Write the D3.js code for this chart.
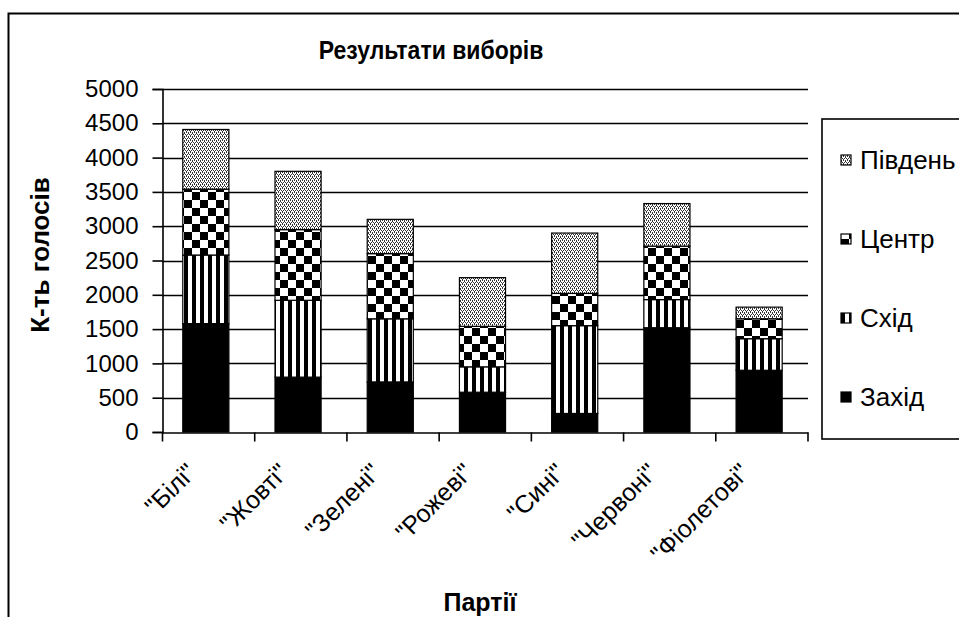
<!DOCTYPE html>
<html>
<head>
<meta charset="utf-8">
<script src="https://cdn.jsdelivr.net/npm/d3@7"></script>
<style>
  html, body { margin: 0; padding: 0; background: #fff; }
  svg { display: block; }
  text { font-family: "Liberation Sans", Arial, sans-serif; fill: #000; }
</style>
</head>
<body>
<svg id="chart" width="959" height="617"></svg>
<script>
// ---- data ----
const title = "Результати виборів";
const yTitle = "К-ть голосів";
const xTitle = "Партії";
const categories = ["\"Білі\"", "\"Жовті\"", "\"Зелені\"", "\"Рожеві\"", "\"Сині\"", "\"Червоні\"", "\"Фіолетові\""];
const seriesNames = ["Захід", "Схід", "Центр", "Південь"];
const zakhid  = [1580, 800, 730, 580, 270, 1520, 900];
const skhid   = [1000, 1120, 920, 370, 1280, 410, 460];
const tsentr  = [960, 1030, 950, 590, 470, 780, 290];
const pivden  = [870, 850, 500, 710, 880, 620, 170];
const yTicks  = [0, 500, 1000, 1500, 2000, 2500, 3000, 3500, 4000, 4500, 5000];

const seriesValues = [zakhid, skhid, tsentr, pivden];
const table = categories.map((c, i) => {
  const row = { cat: c };
  seriesNames.forEach((s, k) => row[s] = seriesValues[k][i]);
  return row;
});

const svg = d3.select("#chart");
const defs = svg.append("defs");

// patterns
const pSolid = "#000";
const pStripe = defs.append("pattern").attr("id", "pat-skhid")
  .attr("patternUnits", "userSpaceOnUse").attr("width", 8).attr("height", 8);
pStripe.append("rect").attr("width", 8).attr("height", 8).attr("fill", "#fff");
pStripe.append("rect").attr("x", 0).attr("width", 4).attr("height", 8).attr("fill", "#000");

const pCheck = defs.append("pattern").attr("id", "pat-tsentr")
  .attr("patternUnits", "userSpaceOnUse").attr("width", 16).attr("height", 16);
pCheck.append("rect").attr("width", 16).attr("height", 16).attr("fill", "#fff");
pCheck.append("rect").attr("x", 0).attr("y", 0).attr("width", 8).attr("height", 8).attr("fill", "#000");
pCheck.append("rect").attr("x", 8).attr("y", 8).attr("width", 8).attr("height", 8).attr("fill", "#000");

const pDots = defs.append("pattern").attr("id", "pat-pivden")
  .attr("patternUnits", "userSpaceOnUse").attr("width", 4).attr("height", 4);
pDots.append("rect").attr("width", 4).attr("height", 4).attr("fill", "#fff");
[[0,0],[2,0],[1,2],[3,2],[0,1],[2,3]].forEach(([x,y]) =>
  pDots.append("rect").attr("x", x).attr("y", y).attr("width", 1).attr("height", 1).attr("fill", "#333"));

const fills = { "Захід": pSolid, "Схід": "url(#pat-skhid)", "Центр": "url(#pat-tsentr)", "Південь": "url(#pat-pivden)" };

// outer chart border
svg.append("rect").attr("x", 8.5).attr("y", 13.5).attr("width", 1100).attr("height", 800)
  .attr("fill", "none").attr("stroke", "#000").attr("stroke-width", 2);

// scales
const xb = d3.scaleBand().domain(categories).range([162.5, 808]);
const barOffset = xb.bandwidth() * 0.22;
const barWidth = xb.bandwidth() * 0.5;
const y = d3.scaleLinear().domain([0, 5000]).range([432, 89]);

// gridlines
svg.append("g").selectAll("line").data(yTicks.filter(t => t > 0)).join("line")
  .attr("x1", 162.5).attr("x2", 808)
  .attr("y1", d => Math.round(y(d)) + 0.5).attr("y2", d => Math.round(y(d)) + 0.5)
  .attr("stroke", "#000").attr("stroke-width", 1.6);

// bars
const stack = d3.stack().keys(seriesNames)(table);
svg.append("g").selectAll("g").data(stack).join("g")
  .attr("fill", d => fills[d.key])
  .selectAll("rect").data(d => d).join("rect")
  .attr("x", d => xb(d.data.cat) + barOffset)
  .attr("width", barWidth)
  .attr("y", d => y(d[1]))
  .attr("height", d => y(d[0]) - y(d[1]))
  .attr("stroke", "#000").attr("stroke-width", 1.2);

// y axis
const yAxis = svg.append("g").attr("transform", "translate(162.5,0)")
  .call(d3.axisLeft(y).tickValues(yTicks).tickFormat(d => String(d)).tickSize(10).tickPadding(14));
yAxis.select(".domain").attr("stroke", "#000").attr("stroke-width", 1.6);
yAxis.selectAll(".tick line").attr("stroke", "#000").attr("stroke-width", 1.6);
yAxis.selectAll("text").attr("font-size", 24).attr("font-family", "'Liberation Sans', Arial, sans-serif").attr("fill", "#000");

// x axis
const xAxis = svg.append("g").attr("transform", "translate(0,432.5)")
  .call(d3.axisBottom(xb).tickSize(0).tickFormat(""));
xAxis.select(".domain").attr("stroke", "#000").attr("stroke-width", 1.6);
xAxis.selectAll(".tick").remove();
const bounds = categories.map(c => xb(c)).concat([xb.range()[1]]);
xAxis.selectAll("line.bt").data(bounds).join("line").attr("class", "bt")
  .attr("x1", d => d).attr("x2", d => d).attr("y1", 0).attr("y2", 9)
  .attr("stroke", "#000").attr("stroke-width", 1.6);

svg.append("g").selectAll("text").data(categories).join("text")
  .attr("transform", d => `translate(${xb(d) + xb.bandwidth() / 2 - 11},474) rotate(-45)`)
  .attr("text-anchor", "end").attr("font-size", 25)
  .text(d => d);

// titles
svg.append("text").attr("transform", "translate(431,59) scale(0.92,1)").attr("text-anchor", "middle")
  .attr("font-size", 25).attr("font-weight", "bold").text(title);
svg.append("text").attr("transform", "translate(49,255) rotate(-90)").attr("text-anchor", "middle")
  .attr("font-size", 26).attr("font-weight", "bold").text(yTitle);
svg.append("text").attr("x", 480).attr("y", 611).attr("text-anchor", "middle")
  .attr("font-size", 25).attr("font-weight", "bold").text(xTitle);

// legend
const lg = svg.append("g");
lg.append("rect").attr("x", 822).attr("y", 119).attr("width", 300).attr("height", 320)
  .attr("fill", "#fff").attr("stroke", "#000").attr("stroke-width", 1.6);
const legendOrder = seriesNames.slice().reverse();
const legendY = d3.scalePoint().domain(legendOrder).range([160, 397]);
const items = lg.selectAll("g.item").data(legendOrder).join("g").attr("class", "item")
  .attr("transform", d => `translate(841,${legendY(d)})`);
items.append("rect").attr("x", 0).attr("y", -5).attr("width", 10).attr("height", 10)
  .attr("fill", d => fills[d]).attr("stroke", "#000").attr("stroke-width", 1.2);
items.append("text").attr("x", 19).attr("y", 9).attr("font-size", 26).text(d => d);
</script>
</body>
</html>
